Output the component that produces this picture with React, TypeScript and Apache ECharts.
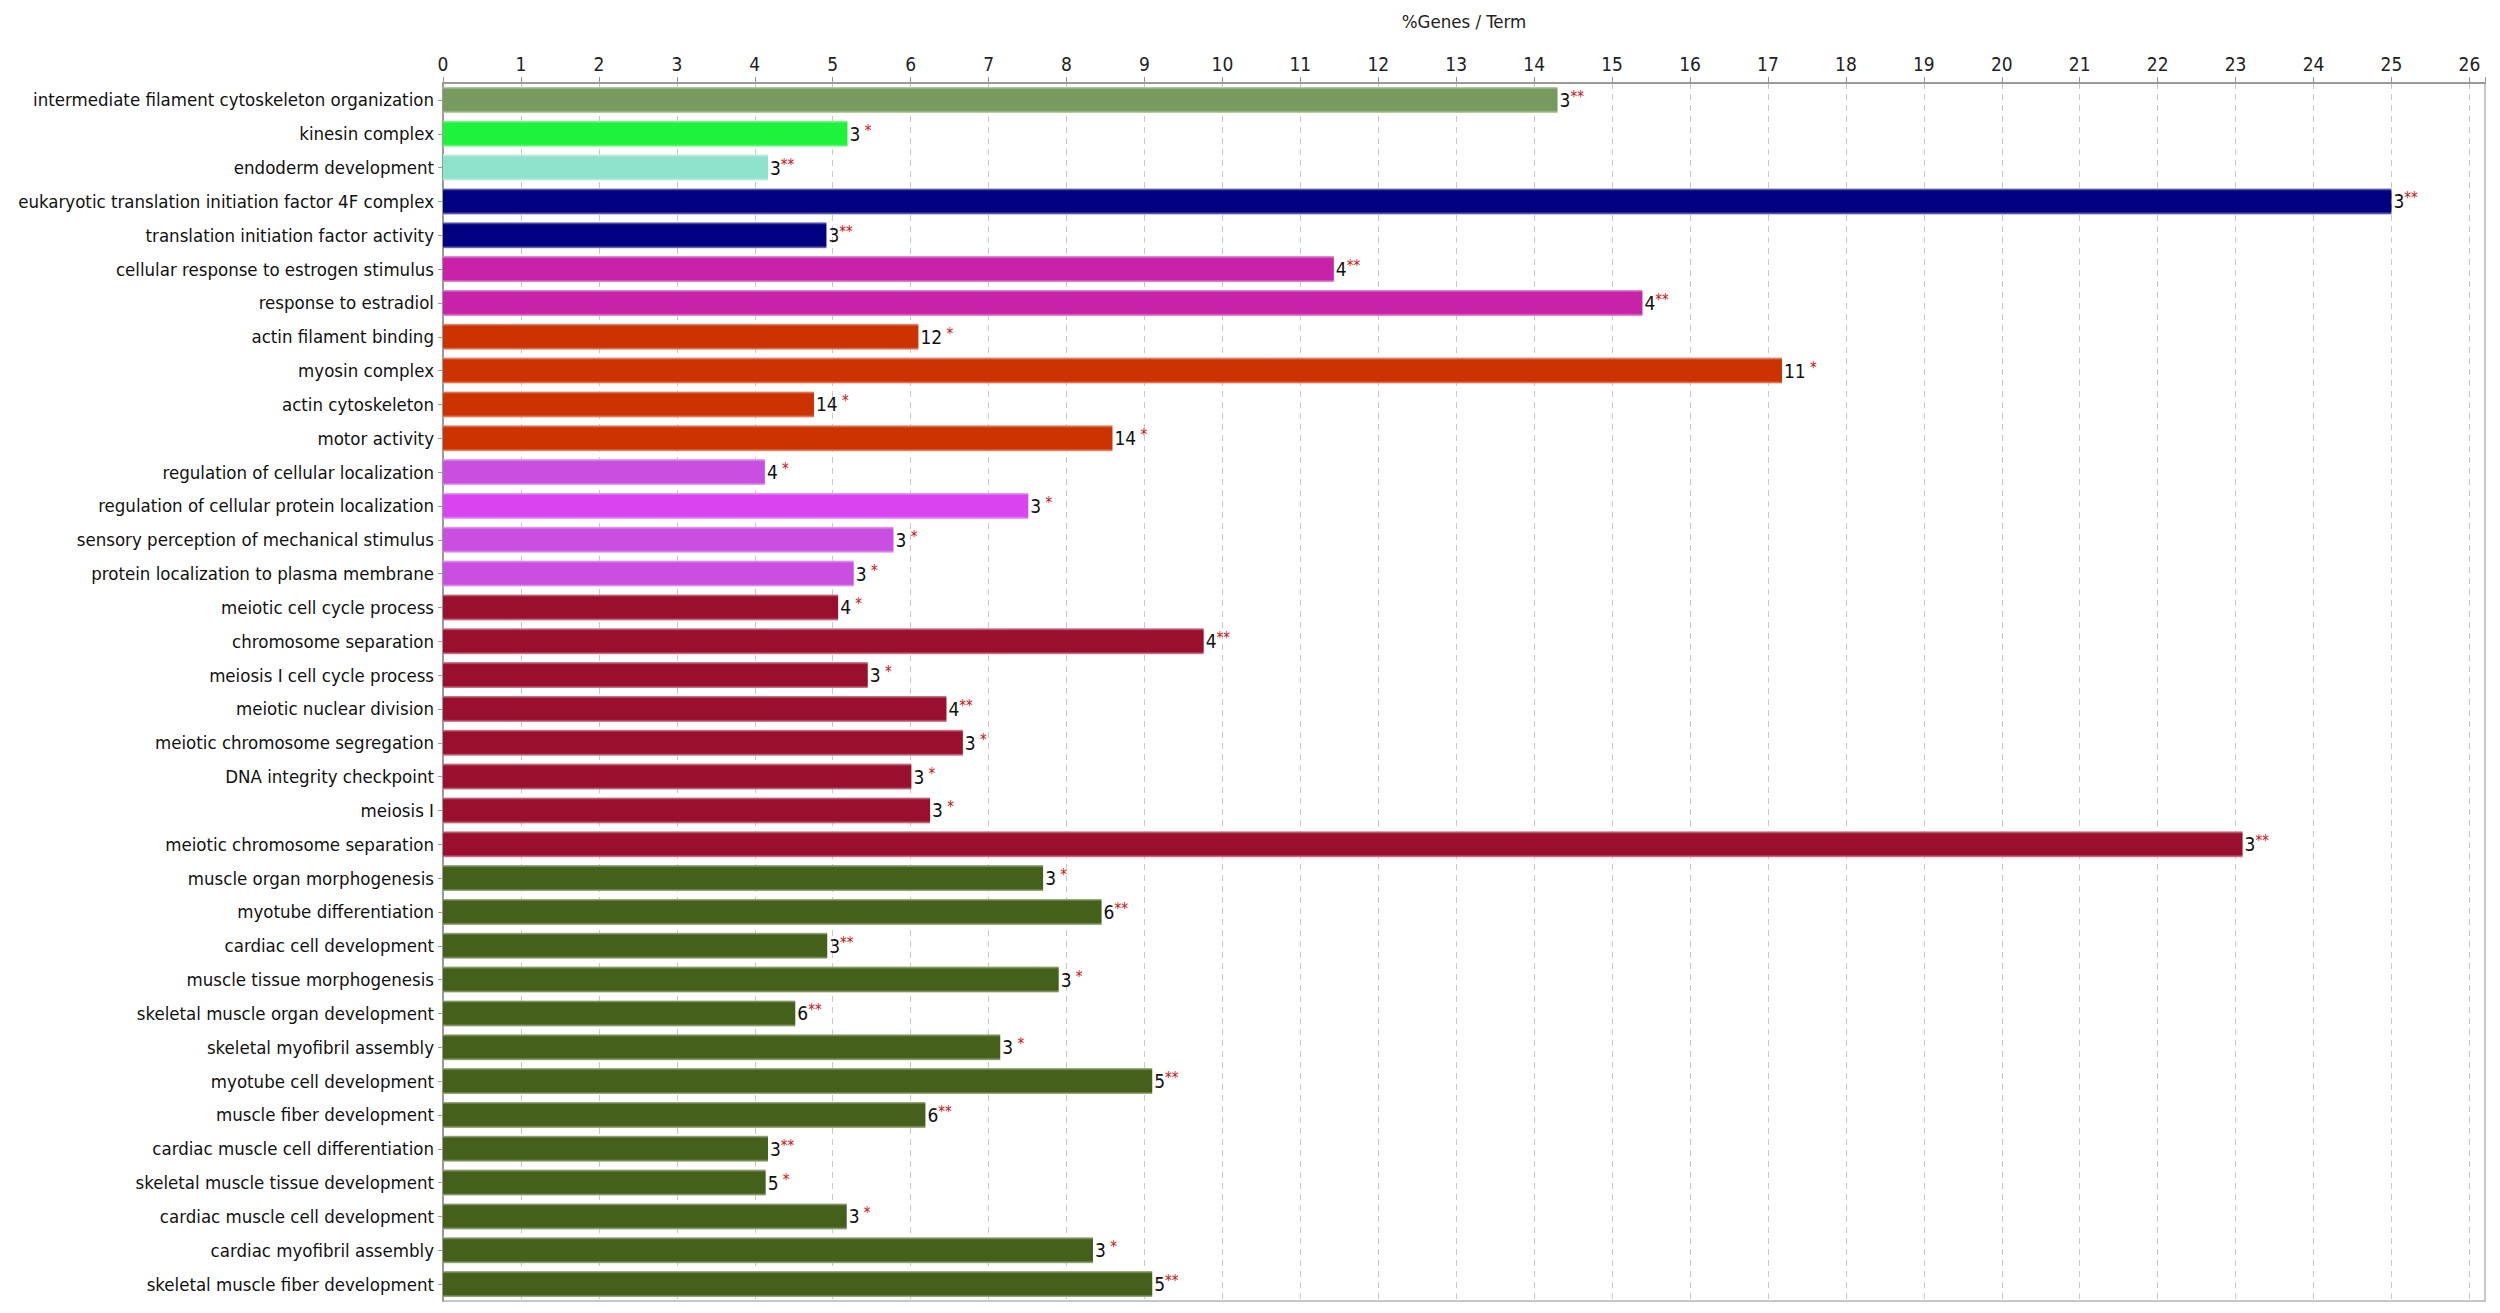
// GO terms bar chart: %Genes / Term, count + significance stars at bar end
import { useEffect, useRef } from "react";
import * as echarts from "echarts";

const terms = [
  "intermediate filament cytoskeleton organization",
  "kinesin complex",
  "endoderm development",
  "eukaryotic translation initiation factor 4F complex",
  "translation initiation factor activity",
  "cellular response to estrogen stimulus",
  "response to estradiol",
  "actin filament binding",
  "myosin complex",
  "actin cytoskeleton",
  "motor activity",
  "regulation of cellular localization",
  "regulation of cellular protein localization",
  "sensory perception of mechanical stimulus",
  "protein localization to plasma membrane",
  "meiotic cell cycle process",
  "chromosome separation",
  "meiosis I cell cycle process",
  "meiotic nuclear division",
  "meiotic chromosome segregation",
  "DNA integrity checkpoint",
  "meiosis I",
  "meiotic chromosome separation",
  "muscle organ morphogenesis",
  "myotube differentiation",
  "cardiac cell development",
  "muscle tissue morphogenesis",
  "skeletal muscle organ development",
  "skeletal myofibril assembly",
  "myotube cell development",
  "muscle fiber development",
  "cardiac muscle cell differentiation",
  "skeletal muscle tissue development",
  "cardiac muscle cell development",
  "cardiac myofibril assembly",
  "skeletal muscle fiber development",
];

const pctGenes = [
  14.3, 5.19, 4.17, 25.0, 4.92, 11.43, 15.39, 6.1, 17.18, 4.76, 8.59, 4.13,
  7.51, 5.78, 5.27, 5.07, 9.76, 5.45, 6.46, 6.67, 6.01, 6.25, 23.09, 7.7,
  8.45, 4.93, 7.9, 4.52, 7.15, 9.1, 6.19, 4.17, 4.14, 5.18, 8.34, 9.1,
];

const geneCounts = [
  3, 3, 3, 3, 3, 4, 4, 12, 11, 14, 14, 4, 3, 3, 3, 4, 4, 3, 4, 3, 3, 3, 3, 3,
  6, 3, 3, 6, 3, 5, 6, 3, 5, 3, 3, 5,
];

const stars = [
  "**", "*", "**", "**", "**", "**", "**", "*", "*", "*", "*", "*",
  "*", "*", "*", "*", "**", "*", "**", "*", "*", "*", "**", "*",
  "**", "**", "*", "**", "*", "**", "**", "**", "*", "*", "*", "**",
];

const barColors = [
  "#779a5e", "#1ef23a", "#8fe2cc", "#000080", "#000080", "#c823a8",
  "#c823a8", "#cc3300", "#cc3300", "#cc3300", "#cc3300", "#c94fe0",
  "#d845f0", "#c94fe0", "#c94fe0", "#9b0f2e", "#9b0f2e", "#9b0f2e",
  "#9b0f2e", "#9b0f2e", "#9b0f2e", "#9b0f2e", "#9b0f2e", "#44601a",
  "#44601a", "#44601a", "#44601a", "#44601a", "#44601a", "#44601a",
  "#44601a", "#44601a", "#44601a", "#44601a", "#44601a", "#44601a",
];

const FONT = '"DejaVu Sans Condensed", "Liberation Sans", sans-serif';

// mix a hex colour with white, used for the pale bar edges
function lighten(hex: string, t: number) {
  const n = parseInt(hex.slice(1), 16);
  const r = (n >> 16) & 255, g = (n >> 8) & 255, b = n & 255;
  const m = (c: number) => Math.round(c + (255 - c) * t);
  return `rgb(${m(r)},${m(g)},${m(b)})`;
}

function barFill(c: string) {
  const edge = lighten(c, 0.55);
  return new echarts.graphic.LinearGradient(0, 0, 0, 1, [
    { offset: 0, color: edge },
    { offset: 0.1, color: c },
    { offset: 0.9, color: c },
    { offset: 1, color: edge },
  ]);
}

export default function App() {
  const ref = useRef<HTMLDivElement>(null);

  useEffect(() => {
    if (!ref.current) return;
    const chart = echarts.init(ref.current, null, { renderer: "svg" });
    chart.setOption({
      animation: false,
      backgroundColor: "#ffffff",
      textStyle: { fontFamily: FONT },
      grid: {
        left: 443,
        right: 15,
        top: 83,
        bottom: 12,
        containLabel: false,
        outerBoundsMode: "none",
        show: true,
        borderColor: "#b4b4b4",
        borderWidth: 1.5,
      },
      xAxis: {
        type: "value",
        position: "top",
        min: 0,
        max: 26.2,
        interval: 1,
        name: "%Genes / Term",
        nameLocation: "middle",
        nameGap: 52,
        nameTextStyle: { fontSize: 18.5, color: "#222", fontFamily: FONT },
        axisLine: { show: true, lineStyle: { color: "#9a9a9a", width: 2 } },
        axisTick: { show: true, length: 6, lineStyle: { color: "#999" } },
        axisLabel: {
          fontSize: 19,
          color: "#222",
          margin: 10,
          fontFamily: FONT,
          formatter: (v: number) => (Number.isInteger(v) ? String(v) : ""),
        },
        splitLine: { show: true, lineStyle: { type: [6, 5], color: "#c8c8c8", width: 1 } },
      },
      yAxis: {
        type: "category",
        inverse: true,
        data: terms,
        axisLine: { show: true, lineStyle: { color: "#8a8a8a", width: 1.5 } },
        axisTick: { show: true, length: 5, alignWithLabel: true, lineStyle: { color: "#999" } },
        axisLabel: { fontSize: 18.5, color: "#111", margin: 9, fontFamily: FONT },
        splitLine: { show: false },
      },
      series: [
        {
          type: "bar",
          barCategoryGap: "23%",
          data: pctGenes.map((v, i) => ({
            value: v,
            itemStyle: { color: barFill(barColors[i]) },
          })),
          label: {
            show: true,
            position: "right",
            distance: 2,
            formatter: (p: any) =>
              `{n|${geneCounts[p.dataIndex]}}{s|${stars[p.dataIndex] === "*" ? " *" : "**"}}`,
            rich: {
              n: { fontSize: 19, color: "#111", fontFamily: FONT },
              s: { fontSize: 15, color: "#cc1111", fontFamily: FONT, padding: [0, 0, 6, 0] },
            },
          },
        },
      ],
    });
    return () => chart.dispose();
  }, []);

  return (
    <div
      ref={ref}
      style={{ position: "absolute", left: 0, top: 0, width: 2500, height: 1313, background: "#fff" }}
    />
  );
}
